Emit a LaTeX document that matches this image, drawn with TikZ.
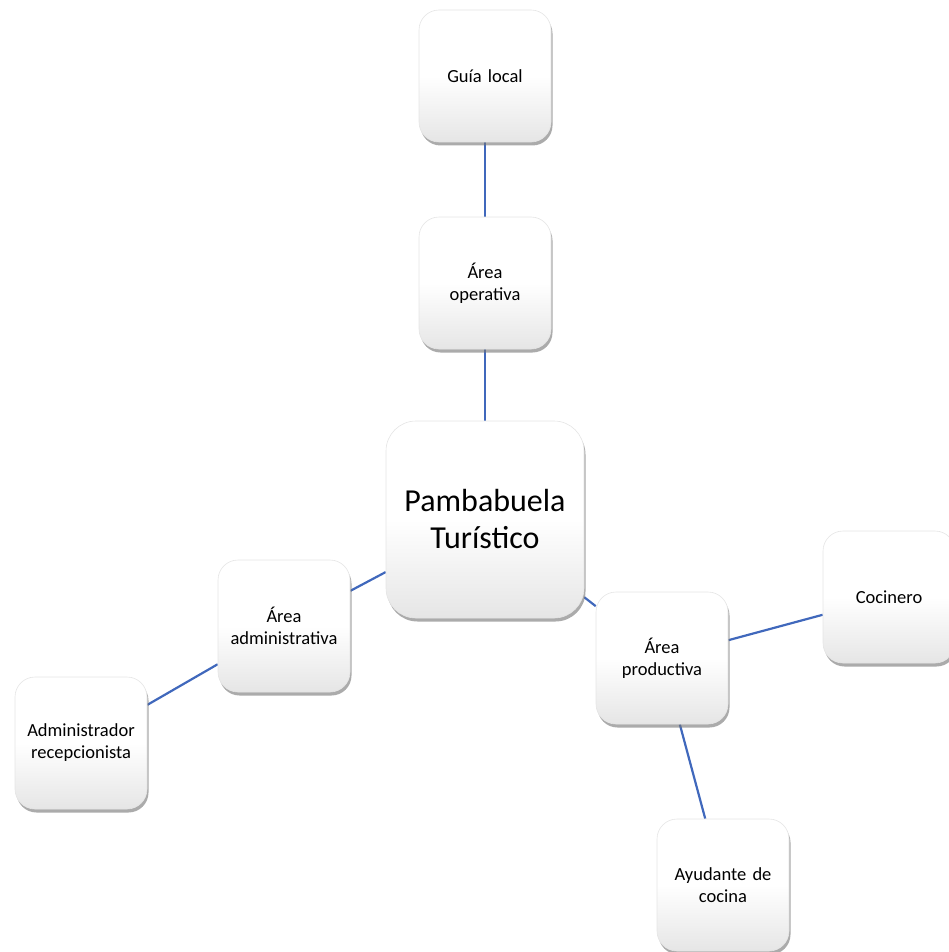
\documentclass[tikz,border=0pt]{standalone}
\usepackage{fontspec}
\setmainfont{Carlito}
\usetikzlibrary{shadows,backgrounds}
\definecolor{linkblue}{HTML}{4068BC}
\tikzset{
  card/.style={rectangle, rounded corners=20pt, minimum width=132pt, minimum height=132pt,
    draw=black!10, line width=0.6pt,
    top color=white, bottom color=black!10, middle color=white,
    drop shadow={shadow xshift=1.5pt, shadow yshift=-3.5pt, fill=black!55, opacity=0.6},
    align=center, font=\fontsize{18.5}{22}\selectfont, text width=130pt, inner sep=0pt},
  bigcard/.style={card, rounded corners=30pt, minimum width=198pt, minimum height=197pt,
    text width=194pt, font=\fontsize{32}{37}\selectfont},
  link/.style={draw=linkblue, line width=2.2pt}
}
\begin{document}
\begin{tikzpicture}[x=1pt,y=-1pt]
\useasboundingbox (0,0) rectangle (949,952);
\clip (0,0) rectangle (949,952);
\node[card] (guia) at (485,76) {Guía local};
\node[card] (oper) at (485,283) {Área\\operativa};
\node[bigcard] (pamb) at (485,519.5) {Pambabuela\\Turístico};
\node[card] (admin) at (284,626) {Área\\administrativa};
\node[card] (adrec) at (81,743) {Administrador\\recepcionista};
\node[card] (prod) at (662,658) {Área\\productiva};
\node[card] (coc) at (889,597) {Cocinero};
\node[card] (ayud) at (723,885) {Ayudante de\\cocina};
\begin{scope}[on background layer]
\draw[link] (guia) -- (oper);
\draw[link] (oper) -- (pamb);
\draw[link] (pamb) -- (admin);
\draw[link] (admin) -- (adrec);
\draw[link] (pamb) -- (prod);
\draw[link] (prod) -- (coc);
\draw[link] (prod) -- (ayud);
\end{scope}
\end{tikzpicture}
\end{document}
